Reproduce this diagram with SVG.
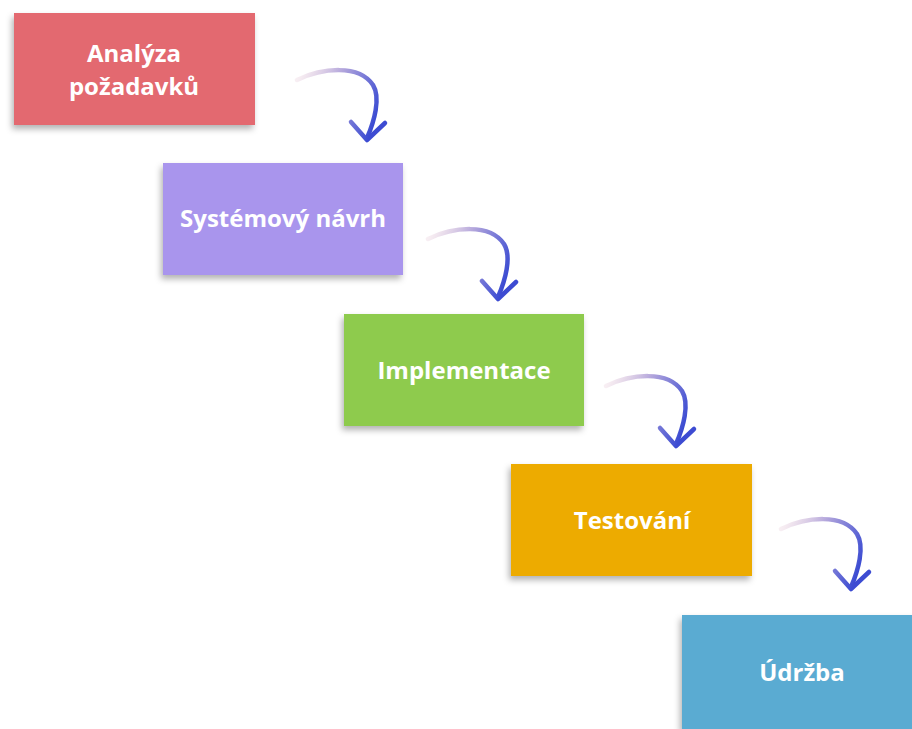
<svg xmlns="http://www.w3.org/2000/svg" width="912" height="729" viewBox="0 0 912 729">
<style>
.box{filter:url(#sh);}
.lbl{font-family:"Open Sans","Lato","DejaVu Sans",sans-serif;font-weight:700;font-size:24px;fill:#ffffff;text-anchor:middle;}
.arr{fill:none;stroke:url(#ag);stroke-width:4.5;stroke-linecap:round;stroke-linejoin:round;filter:url(#bl);}
</style>
<defs>
<filter id="sh" x="-10%" y="-10%" width="120%" height="130%">
<feDropShadow dx="-2" dy="4" stdDeviation="3" flood-color="#000" flood-opacity="0.3"/>
</filter>
<filter id="bl" x="-20%" y="-20%" width="140%" height="140%">
<feGaussianBlur stdDeviation="0.7"/>
</filter>
<linearGradient id="ag" gradientUnits="userSpaceOnUse" x1="0" y1="0" x2="82" y2="30">
<stop offset="0" stop-color="#e9cfdc" stop-opacity="0.35"/>
<stop offset="0.45" stop-color="#b3a6dc"/>
<stop offset="1" stop-color="#3c4cd2"/>
</linearGradient>
<g id="arrow">
<path class="arr" d="M0,0 C25,-12 62,-16 76,5 C84,18 77,42 70,58"/>
<path class="arr" d="M54,42 L70,60 L88,43"/>
</g>
</defs>
<g id="connectors">
<use href="#arrow" transform="translate(297,80)"/>
<use href="#arrow" transform="translate(428,239)"/>
<use href="#arrow" transform="translate(606,386)"/>
<use href="#arrow" transform="translate(781,529)"/>
</g>
<g id="n1">
<rect class="box" x="14" y="13" width="241" height="112" fill="#e3696f"/>
<text class="lbl" x="134" y="62">Analýza</text>
<text class="lbl" x="134" y="95">požadavků</text>
</g>
<g id="n2">
<rect class="box" x="163" y="163" width="240" height="112" fill="#a995ed"/>
<text class="lbl" x="283" y="227">Systémový návrh</text>
</g>
<g id="n3">
<rect class="box" x="344" y="314" width="240" height="112" fill="#8ecb4e"/>
<text class="lbl" x="464" y="379">Implementace</text>
</g>
<g id="n4">
<rect class="box" x="511" y="464" width="241" height="112" fill="#edab05"/>
<text class="lbl" x="632" y="529">Testování</text>
</g>
<g id="n5">
<rect class="box" x="682" y="615" width="241" height="114" fill="#5aabd2"/>
<text class="lbl" x="802" y="681">Údržba</text>
</g>
</svg>
